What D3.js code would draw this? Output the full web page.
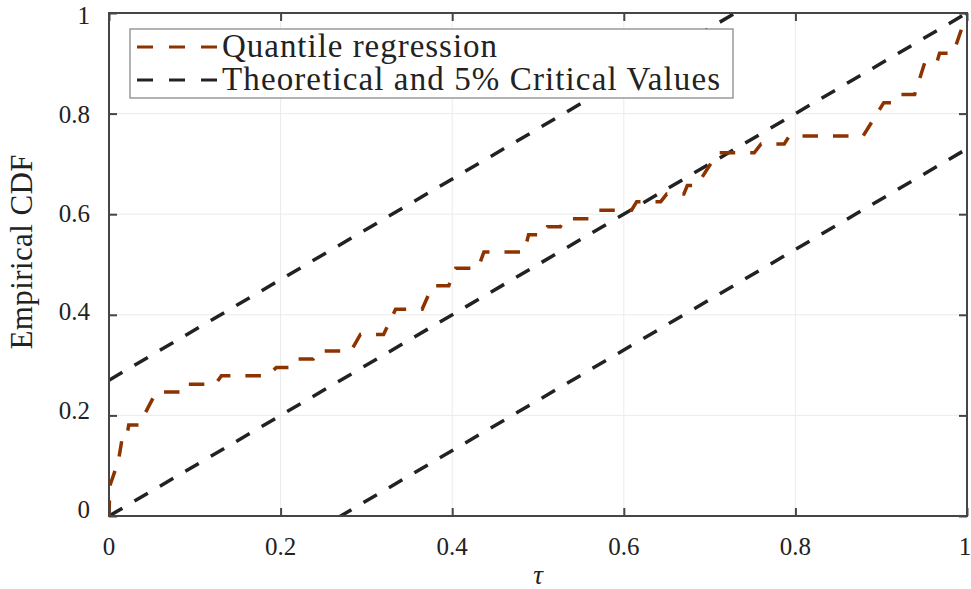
<!DOCTYPE html>
<html>
<head>
<meta charset="utf-8">
<script src="https://cdn.jsdelivr.net/npm/d3@7"></script>
<style>
  body { margin: 0; background: #fff; }
  text { font-family: "Liberation Serif", "Times New Roman", serif; fill: #222; }
</style>
</head>
<body>
<section></section>
<script>
// empirical CDF corners (tau, F)
const tau = [0, 0.001, 0.011, 0.015, 0.020, 0.023, 0.035, 0.055, 0.086, 0.089,
  0.124, 0.131, 0.184, 0.195, 0.213, 0.219, 0.238, 0.244, 0.282, 0.293,
  0.320, 0.334, 0.365, 0.377, 0.396, 0.404, 0.430, 0.437, 0.484, 0.489,
  0.507, 0.511, 0.526, 0.532, 0.562, 0.570, 0.609, 0.615, 0.643, 0.650,
  0.670, 0.674, 0.685, 0.7095, 0.752, 0.760, 0.787, 0.793, 0.879, 0.903,
  0.912, 0.918, 0.939, 0.951, 0.965, 0.968, 0.984, 1];
const ecdf = [0, 0.06, 0.11, 0.151, 0.151, 0.181, 0.181, 0.2465, 0.2465, 0.262,
  0.262, 0.279, 0.279, 0.295, 0.295, 0.312, 0.312, 0.328, 0.328, 0.361,
  0.361, 0.411, 0.411, 0.458, 0.458, 0.4925, 0.4925, 0.525, 0.525, 0.559,
  0.559, 0.575, 0.575, 0.591, 0.591, 0.608, 0.608, 0.625, 0.625, 0.640,
  0.640, 0.657, 0.657, 0.722, 0.722, 0.7396, 0.7396, 0.7555, 0.7555, 0.8217,
  0.8217, 0.838, 0.838, 0.9026, 0.9026, 0.92, 0.92, 1];

const critical = 0.27;
const refOffsets = [0, critical, -critical];
const ticks = [0, 0.2, 0.4, 0.6, 0.8, 1];
const tickLabels = ["0", "0.2", "0.4", "0.6", "0.8", "1"];
const legendLabels = ["Quantile regression", "Theoretical and 5% Critical Values"];

const width = 971, height = 589;
const margin = {top: 13, right: 4, bottom: 73, left: 109};
const w = width - margin.left - margin.right;
const h = height - margin.top - margin.bottom;

const red = "#8c3300", dark = "#222", axisCol = "#454545";

const svg = d3.select("section").append("svg")
  .attr("width", width)
  .attr("height", height);

svg.append("defs").append("clipPath").attr("id", "plot")
  .append("rect").attr("width", w).attr("height", h);

const g = svg.append("g").attr("transform", `translate(${margin.left},${margin.top})`);

const x = d3.scaleLinear().domain([0, 1]).range([0, w]);
const y = d3.scaleLinear().domain([0, 1]).range([h, 0]);
// tick labels sit on a slightly tighter spread than the ticks
const yLab = d3.scaleLinear().domain([0, 1]).range([h - 6, 3]);

// grid
g.append("g")
  .selectAll("line.gx")
  .data(ticks.slice(1, -1))
  .enter().append("line")
  .attr("x1", d => x(d)).attr("x2", d => x(d))
  .attr("y1", 0).attr("y2", h)
  .attr("stroke", "#ebebeb");

g.append("g")
  .selectAll("line.gy")
  .data(ticks.slice(1, -1))
  .enter().append("line")
  .attr("y1", d => y(d)).attr("y2", d => y(d))
  .attr("x1", 0).attr("x2", w)
  .attr("stroke", "#ebebeb");

// reference lines
const plot = g.append("g").attr("clip-path", "url(#plot)");

plot.selectAll("line.ref")
  .data(refOffsets)
  .enter().append("line")
  .attr("x1", x(0)).attr("y1", d => y(d))
  .attr("x2", x(1)).attr("y2", d => y(1 + d))
  .attr("stroke", dark)
  .attr("stroke-width", 3.5)
  .attr("stroke-dasharray", "15.5,14");

const line = d3.line()
  .x(d => x(d[0]))
  .y(d => y(d[1]));

plot.append("path")
  .datum(tau.map((t, i) => [t, ecdf[i]]))
  .attr("d", line)
  .attr("fill", "none")
  .attr("stroke", red)
  .attr("stroke-width", 3.5)
  .attr("stroke-dasharray", "15.5,15");

// axes, ticks inside on all sides
const tickLen = 8;
const axisStyle = sel => {
  sel.select(".domain").remove();
  sel.selectAll(".tick line").attr("stroke", axisCol).attr("stroke-width", 2);
  sel.selectAll(".tick text").remove();
};

g.append("g").attr("transform", `translate(0,${h})`)
  .call(d3.axisTop(x).tickValues(ticks).tickSize(tickLen)).call(axisStyle);
g.append("g")
  .call(d3.axisBottom(x).tickValues(ticks).tickSize(tickLen)).call(axisStyle);
g.append("g")
  .call(d3.axisRight(y).tickValues(ticks).tickSize(tickLen)).call(axisStyle);
g.append("g").attr("transform", `translate(${w},0)`)
  .call(d3.axisLeft(y).tickValues(ticks).tickSize(tickLen)).call(axisStyle);

g.append("rect")
  .attr("width", w).attr("height", h)
  .attr("fill", "none")
  .attr("stroke", axisCol)
  .attr("stroke-width", 2);

// tick labels
g.selectAll("text.xl")
  .data(ticks)
  .enter().append("text")
  .attr("x", d => x(d))
  .attr("dx", d => d === 1 ? -2 : 0)
  .attr("y", h + 39)
  .attr("text-anchor", "middle")
  .attr("font-size", 25)
  .text((d, i) => tickLabels[i]);

g.selectAll("text.yl")
  .data(ticks)
  .enter().append("text")
  .attr("x", -19)
  .attr("y", d => yLab(d) + 8)
  .attr("text-anchor", "end")
  .attr("font-size", 25)
  .text((d, i) => tickLabels[i]);

// axis labels
svg.append("text")
  .attr("x", margin.left + w / 2)
  .attr("y", 584)
  .attr("text-anchor", "middle")
  .attr("font-size", 27)
  .attr("font-style", "italic")
  .text("τ");

svg.append("text")
  .attr("transform", `translate(32,252) rotate(-90)`)
  .attr("text-anchor", "middle")
  .attr("font-size", 31)
  .attr("textLength", 195)
  .attr("lengthAdjust", "spacing")
  .text("Empirical CDF");

// legend
const legend = svg.append("g").attr("transform", "translate(130,29)");

legend.append("rect")
  .attr("width", 603).attr("height", 69)
  .attr("fill", "#fff")
  .attr("stroke", "#8a8a8a")
  .attr("stroke-width", 1.3);

const rows = legend.selectAll("g.row")
  .data(legendLabels)
  .enter().append("g")
  .attr("transform", (d, i) => `translate(0,${18 + i * 33})`);

rows.append("line")
  .attr("x1", 7).attr("x2", 89)
  .attr("stroke", (d, i) => i === 0 ? red : dark)
  .attr("stroke-width", 3.2)
  .attr("stroke-dasharray", "16,16");

rows.append("text")
  .attr("x", 92)
  .attr("y", 10)
  .attr("font-size", 33)
  .attr("textLength", (d, i) => i === 0 ? 275 : 498)
  .attr("lengthAdjust", "spacing")
  .text(d => d);
</script>
</body>
</html>
